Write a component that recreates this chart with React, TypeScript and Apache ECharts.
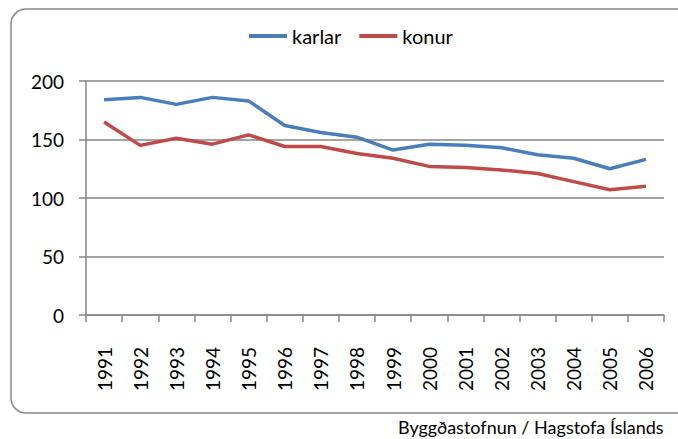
import React, { useEffect, useRef } from "react";
import * as echarts from "echarts";

const years = ["1991","1992","1993","1994","1995","1996","1997","1998","1999","2000","2001","2002","2003","2004","2005","2006"];
const karlar = [184, 186, 180, 186, 183, 162, 156, 152, 141, 146, 145, 143, 137, 134, 125, 133];
const konur = [165, 145, 151, 146, 154, 144, 144, 138, 134, 127, 126, 124, 121, 114, 107, 110];
const yTicks = [0, 50, 100, 150, 200];
const source = "Byggðastofnun / Hagstofa Íslands";

const FONT = "Lato, 'Open Sans', sans-serif";

export default function App() {
  const ref = useRef<HTMLDivElement>(null);
  useEffect(() => {
    if (!ref.current) return;
    const chart = echarts.init(ref.current, null, { renderer: "svg" });
    chart.setOption({
      animation: false,
      textStyle: { fontFamily: FONT },
      grid: { left: 86, top: 81, right: 14, bottom: 124, containLabel: false },
      legend: {
        left: 249,
        top: 26,
        padding: 0,
        itemWidth: 38,
        itemHeight: 4,
        itemGap: 18,
        icon: "rect",
        textStyle: { fontSize: 20, color: "#000", fontFamily: FONT },
        data: ["karlar", "konur"],
      },
      xAxis: {
        type: "category",
        data: years,
        boundaryGap: true,
        axisLine: { lineStyle: { color: "#868686", width: 1.5 } },
        axisTick: { show: true, length: 7, alignWithLabel: false, lineStyle: { color: "#868686", width: 1.5 } },
        axisLabel: { rotate: 90, fontSize: 19, color: "#000", margin: 32, fontFamily: FONT },
      },
      yAxis: {
        type: "value",
        min: yTicks[0],
        max: yTicks[yTicks.length - 1],
        interval: 50,
        axisLine: { show: true, lineStyle: { color: "#868686", width: 1.5 } },
        axisTick: { show: true, length: 7, lineStyle: { color: "#868686", width: 1.5 } },
        splitLine: { lineStyle: { color: "#868686", width: 1.5 } },
        axisLabel: { fontSize: 19, color: "#000", margin: 22, fontFamily: FONT },
      },
      series: [
        {
          name: "karlar",
          type: "line",
          data: karlar,
          symbol: "none",
          lineStyle: { color: "#4A7EBB", width: 3.5 },
          itemStyle: { color: "#4A7EBB" },
        },
        {
          name: "konur",
          type: "line",
          data: konur,
          symbol: "none",
          lineStyle: { color: "#BE4B48", width: 3.5 },
          itemStyle: { color: "#BE4B48" },
        },
      ],
      graphic: [
        {
          type: "rect",
          shape: { x: 11, y: 9, width: 680, height: 404, r: 15 },
          style: { fill: "none", stroke: "#898989", lineWidth: 1.5 },
          z: -1,
        },
        {
          type: "text",
          x: 398,
          y: 427,
          style: { text: source, fontSize: 18, fill: "#000", fontFamily: FONT, verticalAlign: "middle" },
        },
      ],
    });
    return () => chart.dispose();
  }, []);
  return <div ref={ref} style={{ width: 678, height: 439, position: "absolute", left: 0, top: 0 }} />;
}
